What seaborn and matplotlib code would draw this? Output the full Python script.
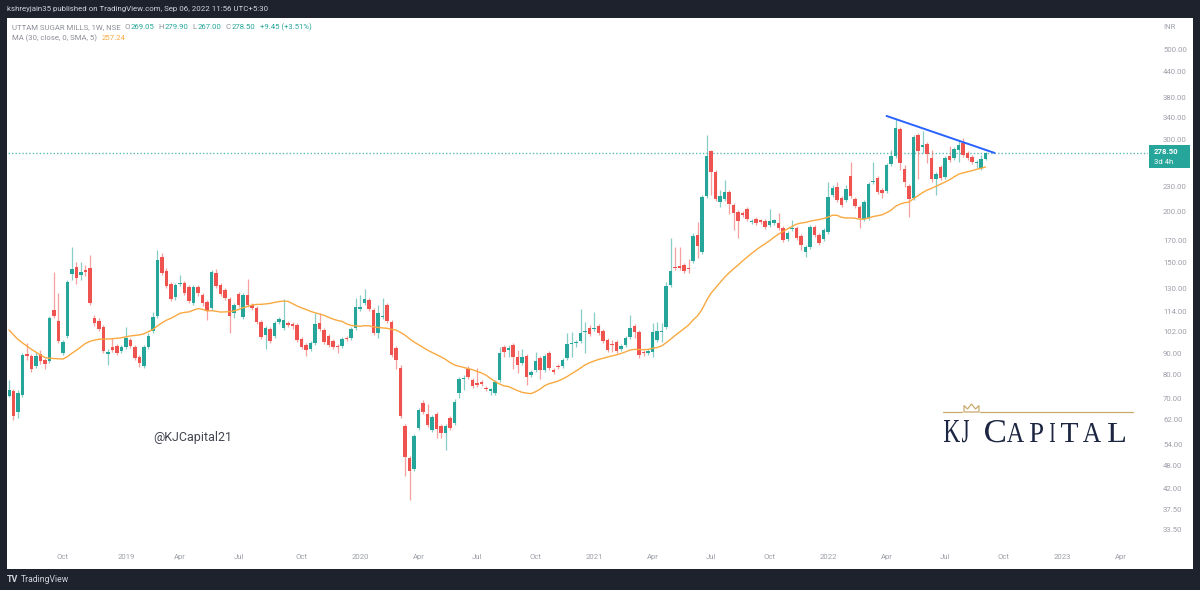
import numpy as np
import pandas as pd
import matplotlib
matplotlib.use("Agg")
import matplotlib.pyplot as plt
import seaborn as sns
from matplotlib.patches import Rectangle, Polygon, PathPatch
from matplotlib.textpath import TextPath
from matplotlib.font_manager import FontProperties
from matplotlib.transforms import Affine2D, IdentityTransform
from matplotlib.ticker import NullLocator

# ---------------------------------------------------
# Data: UTTAM SUGAR MILLS weekly candles
# first bar = week of 9 Jul 2018, last bar = week of 5 Sep 2022
# ---------------------------------------------------
first_week = "2018-07-09"

opens = [
    71.0, 72.9, 64.8, 71.3, 89.8, 88.8, 84.0, 89.8, 86.8, 86.3,
    115.0, 108.1, 90.3, 99.4, 140.9, 146.6, 140.1, 144.1, 145.7, 109.9,
    108.1, 104.6, 89.8, 93.4, 93.9, 91.3, 93.4, 97.2, 93.4, 88.3,
    84.0, 93.4, 102.2, 111.2, 154.6, 143.3, 133.1, 123.8, 132.9, 133.9,
    130.9, 119.6, 130.9, 125.2, 120.3, 116.3, 141.7, 132.4, 128.7, 122.4,
    113.1, 125.9, 110.6, 125.2, 118.3, 116.3, 107.5, 99.9, 103.4, 99.4,
    107.5, 104.0, 106.9, 106.3, 105.7, 97.8, 94.5, 92.3, 95.6, 106.9,
    102.8, 99.4, 96.7, 94.0, 94.0, 98.3, 98.3, 104.0, 115.6, 119.6,
    121.7, 115.0, 101.1, 110.6, 118.3, 107.5, 93.0, 83.0, 59.8, 49.9,
    47.0, 59.1, 68.1, 64.1, 58.5, 64.1, 59.8, 57.5, 62.6, 60.9,
    72.1, 78.0, 82.6, 77.6, 76.3, 76.7, 74.2, 72.9, 72.1, 77.6,
    93.4, 91.8, 94.5, 88.3, 85.4, 88.8, 79.8, 82.1, 87.8, 82.1,
    90.3, 82.1, 84.0, 84.0, 87.8, 95.0, 95.6, 96.7, 101.6, 104.0,
    103.4, 105.1, 102.2, 97.2, 95.0, 96.1, 92.3, 94.5, 98.8, 105.1,
    101.6, 90.8, 90.3, 90.8, 97.2, 101.6, 104.6, 132.4, 146.6, 147.4,
    148.2, 145.7, 151.6, 175.5, 159.4, 218.6, 281.6, 250.3, 211.3, 215.0,
    223.6, 207.8, 199.7, 198.6, 203.1, 188.8, 192.0, 190.9, 189.9, 185.6,
    187.7, 187.7, 182.5, 171.6, 181.5, 182.5, 174.5, 159.4, 164.1, 183.6,
    175.5, 171.6, 178.5, 219.8, 229.9, 216.2, 213.7, 244.6, 215.0, 205.4,
    192.0, 193.3, 236.4, 241.9, 226.1, 224.9, 261.8, 273.7, 319.5, 254.5,
    231.3, 216.2, 308.0, 288.0, 292.9, 271.2, 240.6, 257.4, 243.3, 273.7,
    270.7, 283.2, 294.5, 278.4, 272.2, 263.3, 256.0, 269.05,
]

highs = [
    77.6, 73.8, 73.3, 90.3, 95.5, 89.8, 90.8, 91.8, 87.8, 111.2,
    142.5, 126.6, 97.2, 136.2, 163.9, 150.7, 150.7, 148.2, 156.8, 111.8,
    109.9, 105.7, 92.3, 98.3, 95.0, 94.5, 104.6, 98.3, 94.5, 89.3,
    94.5, 101.0, 113.7, 161.2, 158.5, 145.7, 134.7, 133.9, 140.1, 135.5,
    132.4, 132.4, 132.4, 126.6, 121.7, 144.1, 144.9, 133.9, 130.2, 123.8,
    119.6, 127.4, 126.6, 137.0, 119.6, 117.6, 108.7, 105.1, 104.6, 108.1,
    110.6, 122.4, 108.1, 107.5, 106.9, 98.8, 95.5, 96.7, 113.1, 113.1,
    104.0, 100.5, 97.8, 95.0, 98.8, 99.4, 104.6, 123.1, 125.2, 129.5,
    123.1, 116.3, 118.3, 123.1, 119.6, 108.7, 94.0, 84.4, 60.5, 50.5,
    57.2, 66.2, 69.3, 67.8, 63.7, 64.8, 60.5, 60.5, 63.3, 69.5,
    79.0, 79.8, 83.9, 78.5, 83.0, 77.6, 75.0, 74.2, 77.6, 93.4,
    94.5, 94.5, 95.5, 91.8, 92.3, 89.8, 82.1, 90.8, 88.8, 89.8,
    91.3, 83.0, 84.9, 87.8, 101.1, 101.6, 97.2, 115.6, 107.5, 105.7,
    113.7, 106.3, 103.4, 98.3, 97.2, 97.2, 95.0, 99.4, 111.8, 106.3,
    102.8, 91.8, 92.3, 106.9, 107.5, 106.9, 134.7, 172.5, 163.9, 163.9,
    149.9, 153.3, 177.5, 188.7, 219.8, 308.0, 283.2, 253.1, 226.1, 239.2,
    226.1, 210.3, 202.0, 200.8, 205.4, 192.0, 194.2, 192.0, 192.0, 203.1,
    192.0, 198.6, 184.6, 179.5, 190.9, 184.6, 176.5, 165.9, 185.6, 185.6,
    177.5, 182.5, 236.4, 232.6, 236.4, 218.6, 232.6, 264.8, 217.4, 207.8,
    213.7, 236.4, 264.8, 244.6, 228.6, 263.3, 283.2, 337.0, 323.1, 260.3,
    233.9, 308.0, 311.5, 314.8, 296.2, 283.2, 250.3, 260.3, 273.7, 289.6,
    288.0, 299.5, 302.9, 281.6, 275.3, 267.7, 275.3, 279.9,
]

lows = [
    70.5, 61.9, 62.6, 70.5, 86.8, 81.2, 83.0, 84.9, 82.6, 85.4,
    110.0, 95.6, 89.3, 98.3, 136.2, 133.1, 136.2, 139.3, 118.3, 105.1,
    102.2, 90.3, 84.4, 90.8, 89.3, 90.3, 92.3, 93.0, 86.8, 83.5,
    83.0, 92.3, 101.0, 110.0, 140.1, 130.2, 121.0, 121.7, 131.7, 125.2,
    119.6, 118.3, 124.5, 117.6, 108.7, 115.0, 130.2, 124.5, 121.7, 101.0,
    110.0, 117.0, 109.3, 117.0, 115.0, 106.3, 97.8, 92.3, 95.6, 98.3,
    106.3, 102.8, 104.6, 103.4, 96.1, 92.3, 88.8, 91.3, 94.5, 102.2,
    95.0, 93.4, 92.3, 90.3, 93.0, 96.7, 97.2, 102.8, 114.3, 118.3,
    114.3, 99.9, 98.3, 109.3, 106.9, 88.3, 82.6, 62.6, 45.1, 39.5,
    46.5, 58.5, 64.1, 59.5, 57.8, 55.9, 55.9, 52.3, 58.5, 60.2,
    70.0, 73.3, 78.0, 74.2, 74.6, 75.0, 72.9, 71.3, 71.3, 76.7,
    88.3, 88.3, 82.6, 80.7, 84.4, 75.4, 78.9, 81.2, 78.0, 81.2,
    82.1, 80.2, 82.6, 83.0, 86.8, 88.3, 93.4, 95.6, 90.3, 99.4,
    102.2, 99.9, 95.6, 90.8, 90.8, 90.3, 91.3, 93.4, 97.8, 98.3,
    87.8, 88.8, 89.3, 88.3, 96.1, 96.1, 103.4, 131.2, 144.1, 144.1,
    141.7, 141.7, 149.9, 153.7, 157.7, 216.2, 219.8, 212.5, 205.4, 212.5,
    197.5, 180.5, 172.5, 194.2, 189.9, 186.6, 185.6, 186.6, 181.5, 183.6,
    185.6, 180.5, 168.7, 169.7, 179.5, 170.6, 161.2, 155.0, 162.3, 173.5,
    165.9, 169.7, 176.5, 217.4, 211.3, 205.4, 211.3, 216.2, 204.2, 182.5,
    189.9, 190.9, 233.9, 221.1, 216.2, 222.4, 258.9, 270.6, 253.1, 229.9,
    194.2, 213.7, 240.6, 278.4, 262.8, 236.4, 219.8, 239.2, 240.6, 264.8,
    267.7, 264.8, 272.2, 267.7, 261.8, 256.0, 253.1, 267.0,
]

closes = [
    73.3, 63.3, 72.1, 89.3, 88.8, 82.6, 88.8, 86.3, 84.9, 110.0,
    111.2, 96.7, 96.1, 134.7, 144.9, 137.7, 142.5, 142.5, 119.6, 106.9,
    103.4, 91.3, 90.8, 91.8, 90.3, 93.4, 98.3, 94.0, 87.8, 85.4,
    93.4, 99.4, 110.6, 152.4, 141.7, 131.7, 122.4, 132.4, 134.0, 126.6,
    121.0, 130.9, 126.6, 119.6, 114.3, 142.5, 131.7, 125.9, 123.1, 111.2,
    118.3, 118.3, 125.2, 118.3, 116.3, 107.5, 98.8, 104.0, 96.7, 106.9,
    109.3, 108.7, 105.7, 105.1, 97.2, 93.4, 91.8, 95.6, 106.3, 103.4,
    96.1, 94.5, 93.4, 93.4, 97.8, 97.8, 103.4, 116.9, 116.9, 122.4,
    115.6, 101.1, 113.1, 111.2, 108.1, 89.3, 86.8, 63.3, 50.2, 46.5,
    56.6, 65.5, 64.8, 60.2, 63.0, 58.8, 57.5, 59.8, 59.1, 68.7,
    78.0, 78.5, 78.9, 75.0, 75.4, 75.8, 73.7, 73.7, 76.7, 90.3,
    90.8, 92.8, 88.3, 84.4, 88.3, 78.9, 81.2, 86.3, 82.1, 88.8,
    83.0, 81.2, 83.5, 86.8, 95.0, 95.6, 96.1, 101.1, 102.2, 100.5,
    104.0, 101.1, 96.7, 91.8, 94.5, 91.3, 94.0, 98.3, 104.0, 101.6,
    89.3, 90.3, 91.3, 101.6, 102.2, 102.2, 131.7, 143.3, 145.7, 145.7,
    143.3, 144.9, 174.5, 165.0, 217.4, 273.7, 250.3, 215.0, 218.6, 223.6,
    209.0, 198.6, 189.9, 196.4, 192.0, 189.9, 187.7, 188.8, 183.6, 189.9,
    190.9, 182.5, 170.6, 177.5, 182.5, 172.5, 165.9, 164.1, 183.6, 175.5,
    167.8, 180.5, 217.4, 228.6, 213.7, 207.8, 227.4, 218.6, 206.6, 193.3,
    211.3, 233.9, 237.7, 223.6, 222.4, 260.3, 273.7, 321.3, 263.3, 236.4,
    214.9, 304.6, 281.6, 291.2, 277.0, 240.6, 247.4, 241.9, 270.7, 267.7,
    284.8, 291.2, 275.3, 270.7, 264.8, 264.8, 269.05, 278.5,
]

# weekly closes before the first drawn bar (Dec 2017 - Jul 2018),
# only used to warm up the 30 week SMA
warmup_closes = [
    150, 148, 145, 140, 135, 132, 128, 124, 120, 115, 102,
    99, 97, 94, 92, 90, 88, 86, 87, 89, 90, 88, 86, 85, 84, 82, 80, 78, 78,
]
ma_length = 30
ma_label_value = 257.24

# hand drawn resistance line
trend_dates = ["2022-04-04", "2022-09-19"]
trend_prices = [343.0, 278.5]

# 260 sits under the last-price tag, so it is left out
price_ticks = [33.5, 37.5, 42, 48, 54, 62, 70, 80, 90, 102, 114, 130,
               150, 170, 200, 230, 300, 340, 380, 440, 500]
time_tick_months = ["2018-10", "2019-01", "2019-04", "2019-07", "2019-10",
                    "2020-01", "2020-04", "2020-07", "2020-10", "2021-01",
                    "2021-04", "2021-07", "2021-10", "2022-01", "2022-04",
                    "2022-07", "2022-10", "2023-01", "2023-04"]
time_tick_labels = ["Oct", "2019", "Apr", "Jul", "Oct", "2020", "Apr", "Jul",
                    "Oct", "2021", "Apr", "Jul", "Oct", "2022", "Apr", "Jul",
                    "Oct", "2023", "Apr"]

# ---------------------------------------------------
# Styling
# ---------------------------------------------------
W, H = 1200, 590
FRAME = "#1e222d"
TEAL = "#26a69a"
RED = "#ef5350"
ORANGE = "#f9a940"
GRAY = "#8c8f98"
AXIS_TXT = "#9da0a9"
SMALL = 5.6

sns.set_theme(style="white")
plt.rcParams["font.family"] = ["Roboto", "DejaVu Sans"]


def fx(px):
    return px / W


def fy(py):
    return 1 - py / H


fig = plt.figure(figsize=(W / 100, H / 100), dpi=100)
fig.patch.set_facecolor(FRAME)
renderer = fig.canvas.get_renderer()

# white chart panel inside the dark TradingView frame
fig.add_artist(Rectangle((fx(7), fy(569)), fx(1193) - fx(7), fy(18) - fy(569),
                         transform=fig.transFigure, facecolor="white",
                         edgecolor="none", zorder=-1))

ax = fig.add_axes([fx(8), fy(547), fx(1148) - fx(8), fy(18) - fy(547)])
ax.set_facecolor("white")

origin = pd.Timestamp("2018-07-02")
dates = pd.date_range(first_week, periods=len(closes), freq="W-MON")
xs = ((dates - origin).days / 7).to_numpy(dtype=float)

o = np.array(opens)
h = np.array(highs)
l = np.array(lows)
c = np.array(closes)
colors = np.where(c >= o, TEAL, RED)

ax.set_yscale("log")

# wicks then bodies
ax.vlines(xs, l, h, colors=colors, linewidth=0.9, alpha=0.55, zorder=2)
ax.bar(xs, np.abs(c - o), bottom=np.minimum(o, c), width=0.72,
       color=colors, linewidth=0, zorder=3)

# 30 week simple moving average of the close
all_closes = pd.Series(warmup_closes + closes, dtype=float)
ma = all_closes.rolling(ma_length).mean().iloc[len(warmup_closes):].to_numpy()
sns.lineplot(x=xs, y=ma, ax=ax, color=ORANGE, linewidth=1.0, zorder=4)

# current price line and resistance line
ax.axhline(closes[-1], color=TEAL, linewidth=1.0, linestyle=(0, (1, 1.5)),
           alpha=0.75, zorder=1)
trend_x = [(pd.Timestamp(d) - origin).days / 7 for d in trend_dates]
ax.plot(trend_x, trend_prices, color="#2962ff", linewidth=1.4, zorder=5)

# axes
ax.set_xlim(0.78, 254.1)
ax.set_ylim(30.28, 595.4)
for s in ax.spines.values():
    s.set_visible(False)
ax.grid(False)

ax.yaxis.tick_right()
ax.yaxis.set_minor_locator(NullLocator())
ax.set_yticks(price_ticks)
ax.set_yticklabels([f"{v:.2f}" for v in price_ticks])
ax.tick_params(axis="y", length=0, pad=10.8, labelsize=SMALL, labelcolor=AXIS_TXT)

all_weeks = pd.date_range(origin, "2023-06-30", freq="W-MON")
tick_pos = []
for m in time_tick_months:
    first = all_weeks[all_weeks >= pd.Timestamp(m + "-01")][0]
    tick_pos.append((first - origin).days / 7)
ax.set_xticks(tick_pos)
ax.set_xticklabels(time_tick_labels)
ax.xaxis.set_minor_locator(NullLocator())
ax.tick_params(axis="x", length=0, pad=5, labelsize=SMALL, labelcolor=AXIS_TXT)


# ---------------------------------------------------
# Texts
# ---------------------------------------------------
def text_run(x_px, y_px, parts, size=SMALL):
    # lay coloured pieces side by side, measuring each one
    for s, col, gap in parts:
        t = fig.text(fx(x_px), fy(y_px), s, color=col, fontsize=size,
                     va="center", ha="left")
        x_px += t.get_window_extent(renderer=renderer).width + gap


fig.text(fx(7), fy(9), "kshreyjain35 published on TradingView.com, Sep 06, 2022 11:56 UTC+5:30",
         color="#d1d4dc", fontsize=5.7, va="center", ha="left")

chg = closes[-1] - closes[-2]
pct = chg / closes[-2] * 100
text_run(12, 27, [
    ("UTTAM SUGAR MILLS, 1W, NSE", GRAY, 4),
    ("O", GRAY, 0.8), (f"{opens[-1]:.2f}", TEAL, 4),
    ("H", GRAY, 0.8), (f"{highs[-1]:.2f}", TEAL, 4),
    ("L", GRAY, 0.8), (f"{lows[-1]:.2f}", TEAL, 4),
    ("C", GRAY, 0.8), (f"{closes[-1]:.2f}", TEAL, 5),
    (f"{chg:+.2f} ({pct:+.2f}%)", TEAL, 0),
])
text_run(12, 38.5, [
    (f"MA ({ma_length}, close, 0, SMA, 5)", GRAY, 5),
    (f"{ma_label_value:.2f}", ORANGE, 0),
])

fig.text(fx(1163), fy(27), "INR", color=AXIS_TXT, fontsize=SMALL, va="center", ha="left")

# last price tag on the price scale
fig.add_artist(Rectangle((fx(1149), fy(168)), fx(1190) - fx(1149), fy(145) - fy(168),
                         transform=fig.transFigure, facecolor=TEAL,
                         edgecolor="none", zorder=5))
fig.text(fx(1154), fy(151.5), f"{closes[-1]:.2f}", color="white", fontsize=SMALL,
         fontweight="bold", va="center", ha="left", zorder=6)
fig.text(fx(1154), fy(162), "3d 4h", color="white", fontsize=SMALL,
         va="center", ha="left", zorder=6)

# watermark
fig.text(fx(153), fy(438), "@KJCapital21", color="#434651", fontsize=9,
         va="center", ha="left")

# KJ Capital logo: gold rule, crown and condensed serif letters
GOLD = "#c9a96e"
NAVY = "#1c2541"
fig.add_artist(plt.Line2D([fx(943), fx(962)], [fy(412), fy(412)],
                          transform=fig.transFigure, color=GOLD, lw=0.9))
fig.add_artist(plt.Line2D([fx(980), fx(1133)], [fy(412), fy(412)],
                          transform=fig.transFigure, color=GOLD, lw=0.9))
crown = [(964, 412), (964, 405.5), (967.5, 409), (971.5, 404), (975.5, 409),
         (979, 405.5), (979, 412)]
fig.add_artist(Polygon([(fx(a), fy(b)) for a, b in crown], closed=True,
                       transform=fig.transFigure, facecolor="none",
                       edgecolor=GOLD, lw=0.9))

serif = FontProperties(family="Liberation Serif")
logo_letters = [("K", 944, 960, 420), ("J", 962, 969, 420), ("C", 985, 1005, 420),
                ("A", 1007, 1024, 423), ("P", 1030, 1043, 423), ("I", 1050, 1055, 423),
                ("T", 1061, 1078, 423), ("A", 1083, 1101, 423), ("L", 1108, 1125, 423)]
base_y = 442
for ch, x0, x1, top in logo_letters:
    tp = TextPath((0, 0), ch, size=1, prop=serif)
    ext = tp.get_extents()
    sx = (x1 - x0) / ext.width
    sy = (base_y - top) / ext.y1
    tr = Affine2D().translate(-ext.x0, 0).scale(sx, sy).translate(x0, H - base_y)
    fig.add_artist(PathPatch(tr.transform_path(tp), transform=IdentityTransform(),
                             facecolor=NAVY, edgecolor="none"))

# TradingView footer
fig.text(fx(7), fy(579), "TV", color="#d1d4dc", fontsize=6.5, fontweight="bold",
         va="center", ha="left")
fig.text(fx(21), fy(579), "TradingView", color="#d1d4dc", fontsize=6.2,
         va="center", ha="left")

fig.savefig("out.png", dpi=100, facecolor=fig.get_facecolor())
